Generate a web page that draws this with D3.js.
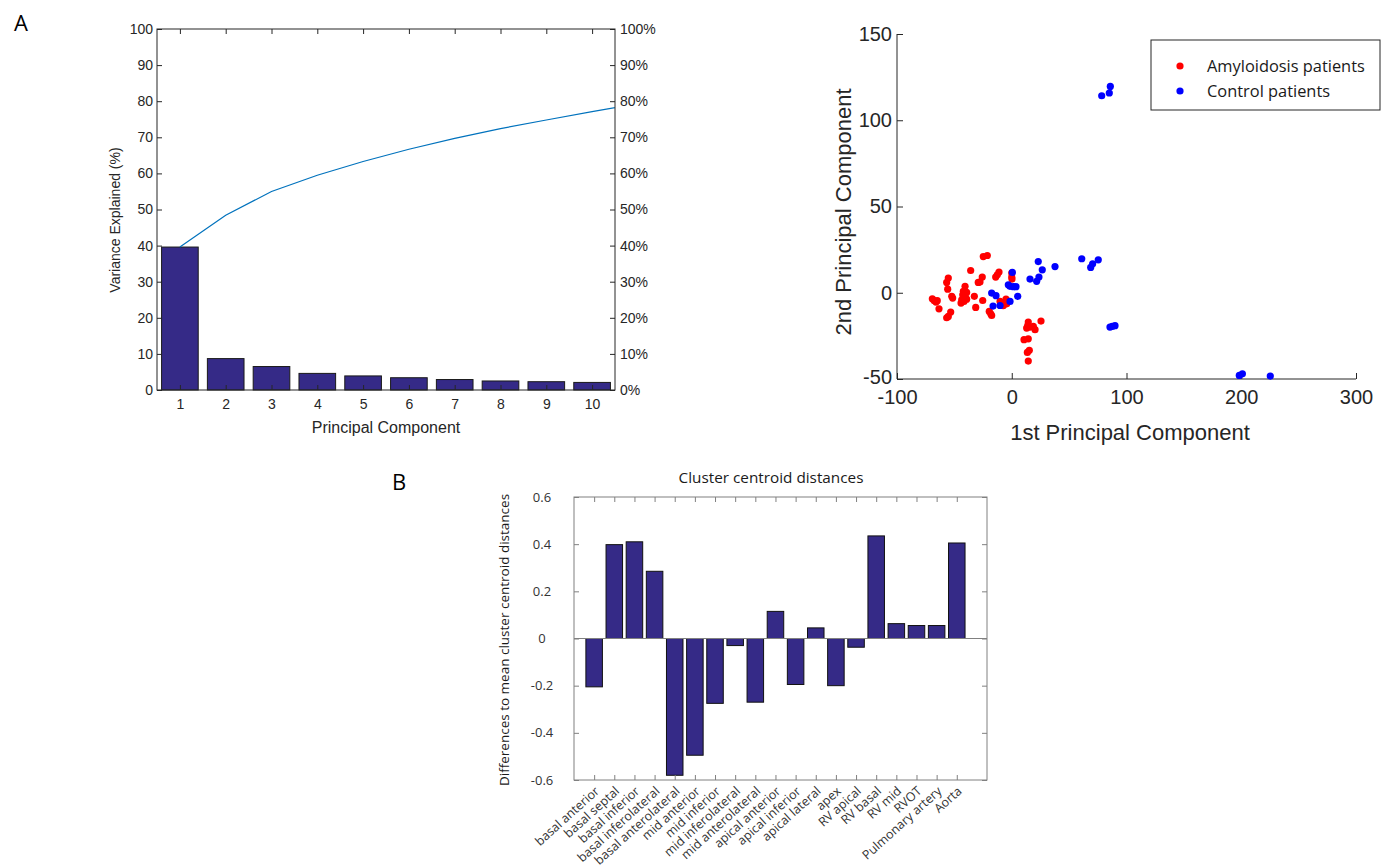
<!DOCTYPE html>
<html>
<head>
<meta charset="utf-8">
<title>PCA of patients and cluster centroid distances</title>
<script src="https://d3js.org/d3.v7.min.js"></script>
<style>
  body { margin: 0; background: #fff; }
  svg { display: block; font-family: "Liberation Sans", Arial, sans-serif; }
  .seg { font-family: "Open Sans", "Noto Sans", sans-serif; }
</style>
</head>
<body>
<svg id="fig" width="1381" height="865"></svg>
<script>
// ---- panel A, left: variance explained per component (pareto) ----
const components = [1, 2, 3, 4, 5, 6, 7, 8, 9, 10];
const varExplained = [39.6, 8.7, 6.5, 4.6, 3.9, 3.4, 2.9, 2.5, 2.3, 2.1];
// cumulative curve keeps going past the 10th bar and is clipped by the axes
const cumComponents = [1, 2, 3, 4, 5, 6, 7, 8, 9, 10, 11];
const cumExplained = [39.6, 48.4, 55.0, 59.5, 63.3, 66.7, 69.7, 72.4, 74.8, 77.1, 79.3];
const varTicks = [0, 10, 20, 30, 40, 50, 60, 70, 80, 90, 100];
const pctTickLabels = ["0%", "10%", "20%", "30%", "40%", "50%", "60%", "70%", "80%", "90%", "100%"];

// ---- panel A, right: scores on the first two components ----
const amyloid = [
  [-24.8, 21.0], [-21.3, 21.6], [-35.8, 12.9], [-55.3, 8.5], [-56.7, 6.0],
  [-25.7, 9.1], [-27.7, 6.2], [-29.2, 6.0], [-11.1, 12.0], [-12.6, 10.4],
  [-14.0, 9.1], [0.0, 11.4], [0.0, 9.1], [0.2, 7.9], [-40.7, 3.7],
  [-42.2, 0.8], [-39.3, 0.2], [-42.7, -1.2], [-40.7, -2.5], [-43.6, -4.1],
  [-44.2, -6.0], [-41.6, -5.0], [-39.3, -3.7], [-55.8, 2.1], [-52.3, -2.1],
  [-51.5, -3.1], [-69.2, -3.5], [-67.5, -4.6], [-64.9, -4.6], [-66.0, -5.4],
  [-63.4, -9.3], [-32.6, -2.1], [-25.3, -4.5], [-31.4, -8.5], [-53.2, -11.2],
  [-55.3, -13.7], [-56.7, -14.5], [-19.6, -10.8], [-18.3, -12.2], [-17.5, -13.2],
  [-10.2, -5.0], [-8.8, -6.4], [-7.4, -7.5], [-5.0, -3.7], [-3.5, -5.0],
  [-4.4, -6.4], [14.4, -17.0], [13.9, -19.1], [15.9, -19.9], [13.0, -20.5],
  [18.8, -19.5], [20.3, -21.4], [25.5, -16.4], [14.4, -26.7], [10.7, -27.2],
  [15.3, -33.4], [13.6, -34.6], [14.4, -39.6]
];
const control = [
  [0.5, 11.8], [23.1, 18.1], [26.6, 13.3], [23.7, 9.1], [21.7, 6.6],
  [15.9, 7.9], [37.7, 15.2], [61.0, 19.7], [70.5, 16.8], [68.8, 14.7],
  [75.4, 19.1], [-3.0, 4.6], [-1.5, 3.7], [1.4, 3.5], [3.7, 3.5],
  [5.2, -2.1], [-17.5, -0.2], [-13.7, -1.7], [-16.3, -7.7], [-10.2, -7.4],
  [-1.5, -5.0], [78.4, 114.2], [85.0, 115.8], [85.9, 119.6], [85.6, -19.9],
  [87.6, -19.5], [90.0, -19.1], [198.3, -47.9], [201.0, -47.0], [225.3, -48.3]
];
const pc1Ticks = [-100, 0, 100, 200, 300];
const pc2Ticks = [-50, 0, 50, 100, 150];
const groupNames = ["Amyloidosis patients", "Control patients"];

// ---- panel B: cluster centroid distances per region ----
const regions = ["basal anterior", "basal septal", "basal inferior", "basal inferolateral",
  "basal  anterolateral", "mid anterior", "mid inferior", "mid inferolateral",
  "mid anterolateral", "apical anterior", "apical inferior", "apical lateral", "apex",
  "RV apical", "RV basal", "RV mid", "RVOT", "Pulmonary artery", "Aorta"];
const centroidDiff = [-0.205, 0.398, 0.41, 0.285, -0.58, -0.495, -0.275, -0.03,
  -0.27, 0.115, -0.195, 0.045, -0.2, -0.037, 0.435, 0.063, 0.055, 0.055, 0.405];
const diffTicks = [-0.6, -0.4, -0.2, 0, 0.2, 0.4, 0.6];

const svg = d3.select("#fig");
const barFill = "#352a87";
const axisCol = "#262626";
const plain = d => String(d);   // hyphen minus, like the original figure

// small helper: strip the domain path and colour ticks
function styleAxis(g, col) {
  g.select(".domain").remove();
  g.selectAll("line").attr("stroke", col);
  g.selectAll("text").attr("fill", col);
}

// ================= panel A left =================
{
  const x = d3.scaleLinear().domain([0.5, 10.5]).range([157, 615]);
  const y = d3.scaleLinear().domain([0, 100]).range([390, 29]);
  const g = svg.append("g");

  g.append("clipPath").attr("id", "clipPareto")
    .append("rect").attr("x", 157).attr("y", 29).attr("width", 458).attr("height", 361);

  g.append("g").selectAll("rect").data(components).join("rect")
    .attr("x", d => x(d - 0.4))
    .attr("width", x(0.8) - x(0))
    .attr("y", (d, i) => y(varExplained[i]))
    .attr("height", (d, i) => y(0) - y(varExplained[i]))
    .attr("fill", barFill).attr("stroke", "#1a1a1a").attr("stroke-width", 1);

  g.append("path")
    .datum(cumComponents.map((c, i) => [c, cumExplained[i]]))
    .attr("clip-path", "url(#clipPareto)")
    .attr("fill", "none").attr("stroke", "#0072bd").attr("stroke-width", 1.2)
    .attr("d", d3.line().x(d => x(d[0])).y(d => y(d[1])));

  g.append("rect").attr("x", 157).attr("y", 29).attr("width", 458).attr("height", 361)
    .attr("fill", "none").attr("stroke", axisCol);

  g.append("g").attr("transform", "translate(0,390)")
    .call(d3.axisBottom(x).tickValues(components).tickSizeInner(-5).tickSizeOuter(0).tickPadding(9))
    .call(a => styleAxis(a, axisCol))
    .selectAll("text").attr("font-size", 14).attr("font-family", null);
  g.append("g").attr("transform", "translate(0,29)")
    .call(d3.axisTop(x).tickValues(components).tickSizeInner(-5).tickSizeOuter(0).tickFormat(""))
    .call(a => styleAxis(a, axisCol));
  g.append("g").attr("transform", "translate(157,0)")
    .call(d3.axisLeft(y).tickValues(varTicks).tickSizeInner(-5).tickSizeOuter(0).tickPadding(4))
    .call(a => styleAxis(a, axisCol))
    .selectAll("text").attr("font-size", 14).attr("font-family", null);
  g.append("g").attr("transform", "translate(615,0)")
    .call(d3.axisRight(y).tickValues(varTicks).tickSizeInner(-5).tickSizeOuter(0).tickPadding(5)
      .tickFormat((d, i) => pctTickLabels[i]))
    .call(a => styleAxis(a, axisCol))
    .selectAll("text").attr("font-size", 14).attr("font-family", null);

  g.append("text").attr("x", 386).attr("y", 433).attr("text-anchor", "middle")
    .attr("font-size", 16).attr("fill", axisCol).text("Principal Component");
  g.append("text").attr("transform", "translate(120,220) rotate(-90)").attr("text-anchor", "middle")
    .attr("font-size", 14).attr("fill", axisCol).text("Variance Explained (%)");
}

// ================= panel A right =================
{
  const x = d3.scaleLinear().domain([-100, 300]).range([897, 1356]);
  const y = d3.scaleLinear().domain([-50, 150]).range([379, 34]);
  const g = svg.append("g");

  g.append("line").attr("x1", 897).attr("x2", 897).attr("y1", 34).attr("y2", 379).attr("stroke", axisCol);
  g.append("line").attr("x1", 897).attr("x2", 1356).attr("y1", 379).attr("y2", 379).attr("stroke", axisCol);

  g.append("g").attr("transform", "translate(0,379)")
    .call(d3.axisBottom(x).tickValues(pc1Ticks).tickSizeInner(-6).tickSizeOuter(0).tickPadding(11)
      .tickFormat(plain))
    .call(a => styleAxis(a, axisCol))
    .selectAll("text").attr("font-size", 20).attr("font-family", null);
  g.append("g").attr("transform", "translate(897,0)")
    .call(d3.axisLeft(y).tickValues(pc2Ticks).tickSizeInner(-6).tickSizeOuter(0).tickPadding(5)
      .tickFormat(plain))
    .call(a => styleAxis(a, axisCol))
    .selectAll("text").attr("font-size", 20).attr("font-family", null)
    .attr("dy", d => d === -50 ? "0.2em" : "0.32em");

  g.append("g").selectAll("circle").data(amyloid).join("circle")
    .attr("cx", d => x(d[0])).attr("cy", d => y(d[1])).attr("r", 3.6).attr("fill", "#ff0000");
  g.append("g").selectAll("circle").data(control).join("circle")
    .attr("cx", d => x(d[0])).attr("cy", d => y(d[1])).attr("r", 3.6).attr("fill", "#0000ff");

  g.append("text").attr("x", 1130).attr("y", 440).attr("text-anchor", "middle")
    .attr("font-size", 22).attr("fill", axisCol).text("1st Principal Component");
  g.append("text").attr("transform", "translate(851,212) rotate(-90)").attr("text-anchor", "middle")
    .attr("font-size", 22).attr("fill", axisCol).text("2nd Principal Component");

  const leg = g.append("g").attr("class", "seg");
  leg.append("rect").attr("x", 1151).attr("y", 40).attr("width", 229).attr("height", 70)
    .attr("fill", "#fff").attr("stroke", axisCol);
  leg.selectAll("g").data(groupNames).join("g")
    .attr("transform", (d, i) => `translate(1180,${66 + i * 25})`)
    .call(s => s.append("circle").attr("r", 3.6).attr("fill", (d, i) => i ? "#0000ff" : "#ff0000"))
    .call(s => s.append("text").attr("x", 27).attr("dy", "0.35em").attr("font-size", 16.4)
      .attr("fill", "#1a1a1a").text(d => d));
}

// ================= panel B =================
{
  const x = d3.scaleLinear().domain([0, 20.5]).range([574, 987]);
  const y = d3.scaleLinear().domain([-0.6, 0.6]).range([780, 497]);
  const idx = regions.map((r, i) => i + 1);
  const boxCol = "#808080";
  const g = svg.append("g").attr("class", "seg");

  g.append("g").selectAll("rect").data(centroidDiff).join("rect")
    .attr("x", (d, i) => x(i + 1 - 0.41))
    .attr("width", x(0.82) - x(0))
    .attr("y", d => y(Math.max(0, d)))
    .attr("height", d => Math.abs(y(d) - y(0)))
    .attr("fill", barFill).attr("stroke", "#111").attr("stroke-width", 1);

  g.append("line").attr("x1", 574).attr("x2", 987).attr("y1", y(0)).attr("y2", y(0)).attr("stroke", boxCol);
  g.append("rect").attr("x", 574).attr("y", 497).attr("width", 413).attr("height", 283)
    .attr("fill", "none").attr("stroke", boxCol);

  g.append("g").attr("transform", "translate(0,780)")
    .call(d3.axisBottom(x).tickValues(idx).tickSizeInner(-5).tickSizeOuter(0).tickFormat(""))
    .call(a => styleAxis(a, boxCol));
  g.append("g").attr("transform", "translate(0,497)")
    .call(d3.axisTop(x).tickValues(idx).tickSizeInner(-5).tickSizeOuter(0).tickFormat(""))
    .call(a => styleAxis(a, boxCol));
  g.append("g").attr("transform", "translate(574,0)")
    .call(d3.axisLeft(y).tickValues(diffTicks).tickSizeInner(-5).tickSizeOuter(0).tickFormat(""))
    .call(a => styleAxis(a, boxCol));
  g.append("g").attr("transform", "translate(987,0)")
    .call(d3.axisRight(y).tickValues(diffTicks).tickSizeInner(-5).tickSizeOuter(0).tickFormat(""))
    .call(a => styleAxis(a, boxCol));

  // tick labels are centred in this panel
  g.append("g").selectAll("text").data(diffTicks).join("text")
    .attr("x", 542).attr("y", d => y(d)).attr("dy", "0.35em").attr("text-anchor", "middle")
    .attr("font-size", 13).attr("fill", "#333").text(plain);

  g.append("g").selectAll("text").data(regions).join("text")
    .attr("transform", (d, i) => `translate(${x(i + 1) + 3},789) rotate(-42)`)
    .attr("text-anchor", "end").attr("dy", "0.35em")
    .attr("font-size", 12.5).attr("fill", "#333").text(d => d);

  g.append("text").attr("x", 771).attr("y", 483).attr("text-anchor", "middle")
    .attr("font-size", 15.3).attr("fill", "#1a1a1a").text("Cluster centroid distances");
  g.append("text").attr("transform", "translate(509,640) rotate(-90)").attr("text-anchor", "middle")
    .attr("font-size", 13.5).attr("fill", "#1a1a1a").text("Differences to mean cluster centroid distances");
}

// panel letters
svg.append("text").attr("class", "seg").attr("x", 14).attr("y", 31).attr("font-size", 22).text("A");
svg.append("text").attr("class", "seg").attr("x", 392).attr("y", 490).attr("font-size", 22).text("B");
</script>
</body>
</html>
